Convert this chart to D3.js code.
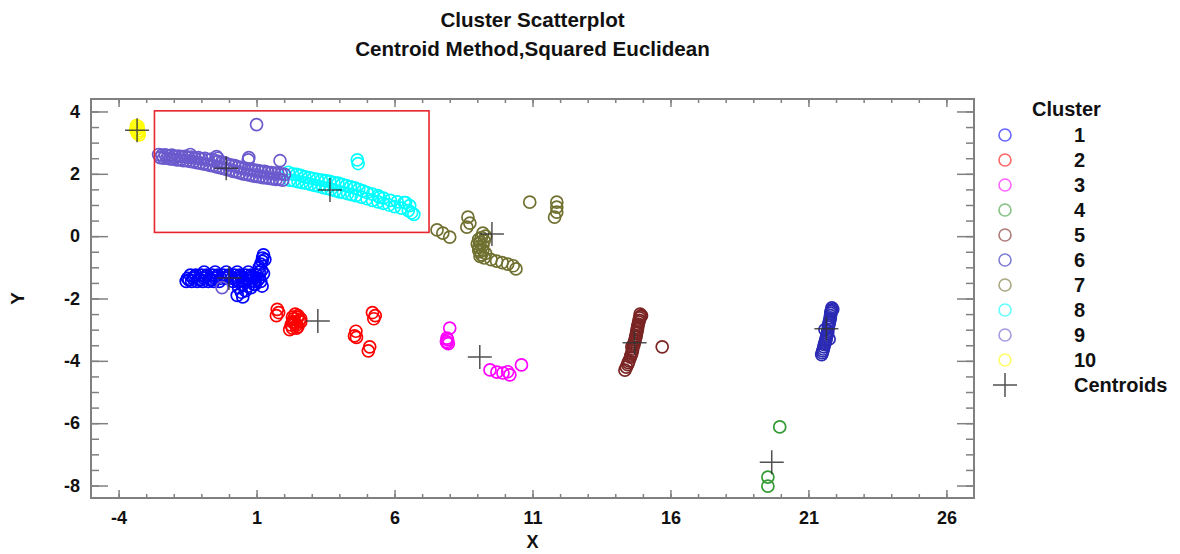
<!DOCTYPE html>
<html>
<head>
<meta charset="utf-8">
<script src="https://cdnjs.cloudflare.com/ajax/libs/d3/7.8.5/d3.min.js"></script>
<style>
    body { margin: 0; background: #fff; }
    text { font-family: "Liberation Sans", Arial, sans-serif; font-weight: bold; fill: #111; }
</style>
</head>
<body>
<svg id="chartSVG"></svg>
<script>
//Cluster points, one list per cluster: [x, y]
    const cluster1 = [[-1.4,-1.25],[-1.2,-1.25],[-1.0,-1.25],[-0.8,-1.25],[-0.6,-1.25],[-0.4,-1.25],[-0.2,-1.25],[0.0,-1.25],
                      [0.2,-1.25],[0.4,-1.25],[0.6,-1.25],[0.8,-1.25],[1.0,-1.25],
                      [-1.5,-1.35],[-1.3,-1.35],[-1.1,-1.35],[-0.9,-1.35],[-0.7,-1.35],[-0.5,-1.35],[-0.3,-1.35],[-0.1,-1.35],
                      [0.1,-1.35],[0.3,-1.35],[0.5,-1.35],[0.7,-1.35],[0.9,-1.35],[1.1,-1.35],
                      [-1.55,-1.45],[-1.35,-1.45],[-1.15,-1.45],[-0.95,-1.45],[-0.75,-1.45],[-0.55,-1.45],[-0.35,-1.45],
                      [0.15,-1.45],[0.35,-1.45],[0.55,-1.45],[0.75,-1.45],[0.95,-1.45],[1.15,-1.45],
                      [-1.45,-1.4],[-1.25,-1.3],[-1.05,-1.4],[-0.85,-1.3],[-0.65,-1.4],[-0.45,-1.3],[-0.05,-1.3],
                      [0.25,-1.4],[0.45,-1.3],[0.65,-1.4],[0.85,-1.3],[1.05,-1.4],[0.5,-1.55],[0.7,-1.6],[0.9,-1.55],
                      [-0.9,-1.15],[-0.5,-1.15],[-0.1,-1.15],[0.3,-1.15],[0.7,-1.15],[1.1,-1.15],[1.25,-1.2],
                      [0.35,-1.65],[0.45,-1.8],[0.5,-1.95],[0.6,-1.75],[0.8,-1.65],[0.95,-1.55],[0.3,-1.9],[1.2,-1.6],
                      [1.1,-1.0],[1.15,-0.9],[1.2,-0.8],[1.22,-0.7],[1.25,-0.6],[1.3,-0.75],[1.18,-1.1]];
    const cluster2 = [[1.75,-2.35],[1.8,-2.45],[1.72,-2.55],[2.3,-2.6],[2.4,-2.5],[2.5,-2.55],[2.6,-2.65],[2.35,-2.75],
                      [2.45,-2.85],[2.3,-2.95],[2.5,-2.9],[2.2,-3.0],[2.6,-2.75],[2.35,-2.65],[2.4,-2.8],[2.55,-2.7],
                      [2.25,-2.85],[2.45,-2.95],[2.5,-2.6],[2.3,-2.75],
                      [5.2,-2.45],[5.3,-2.55],[5.25,-2.65],[4.6,-3.05],[4.55,-3.2],[4.62,-3.25],[5.1,-3.55],[5.05,-3.68]];
    const cluster3 = [[8.0,-2.95],[7.9,-3.27],[7.92,-3.32],[7.88,-3.38],[7.9,-3.42],[7.95,-3.45],[9.46,-4.29],[9.71,-4.36],
                      [9.93,-4.39],[10.18,-4.45],[10.1,-4.35],[10.6,-4.13]];
    const cluster4 = [[19.96,-6.12],[19.53,-7.73],[19.53,-8.02]];
    const cluster5 = [[14.95,-2.55],[14.9,-2.5],[14.92,-2.58],[14.88,-2.62],[14.87,-2.7],[14.85,-2.75],[14.83,-2.82],
                      [14.82,-2.88],[14.8,-2.95],[14.8,-3.0],[14.78,-3.06],[14.77,-3.12],[14.75,-3.2],[14.74,-3.25],
                      [14.72,-3.32],[14.7,-3.38],[14.68,-3.44],[14.67,-3.5],[14.6,-3.55],[14.63,-3.62],[14.62,-3.68],
                      [14.6,-3.75],[14.57,-3.82],[14.55,-3.88],[14.5,-4.0],[14.47,-4.06],[14.45,-4.12],[14.4,-4.2],
                      [14.35,-4.3],[15.7,-3.55]];
    const cluster6 = [[21.88,-2.35],[21.85,-2.3],[21.84,-2.38],[21.82,-2.42],[21.81,-2.48],[21.8,-2.55],[21.79,-2.62],
                      [21.78,-2.68],[21.76,-2.74],[21.75,-2.8],[21.73,-2.86],[21.72,-2.92],[21.6,-3.0],[21.7,-3.05],
                      [21.69,-3.12],[21.67,-3.18],[21.65,-3.24],[21.64,-3.3],[21.75,-3.3],[21.62,-3.36],[21.6,-3.42],
                      [21.58,-3.48],[21.56,-3.55],[21.54,-3.62],[21.52,-3.68],[21.5,-3.74],[21.48,-3.8]];
    const cluster7 = [[7.54,0.2],[7.75,0.1],[8.0,-0.03],[8.66,0.61],[8.73,0.42],[8.62,0.29],[9.2,0.1],[9.3,0.0],
                      [9.15,-0.05],[9.1,-0.2],[9.2,-0.3],[9.05,-0.35],[9.1,-0.5],[9.15,-0.6],[9.25,-0.7],[9.05,-0.1],
                      [9.0,-0.25],[9.05,-0.45],[9.1,-0.65],[9.2,-0.45],[9.25,-0.15],[9.3,-0.55],[9.5,-0.75],
                      [9.7,-0.8],[9.9,-0.85],[10.1,-0.9],[10.3,-0.95],[10.4,-1.05],[10.9,1.09],[11.88,1.09],
                      [11.88,0.93],[11.88,0.77],[11.8,0.61]];
    const cluster8 = [[2.15,2.05],[2.3,2.0],[2.45,1.98],[2.6,1.95],[2.75,1.9],[2.9,1.88],[3.05,1.85],[3.2,1.82],[3.35,1.8],
                      [3.5,1.78],[3.65,1.76],[3.8,1.72],[3.95,1.7],[4.1,1.66],[4.25,1.62],[4.4,1.58],[4.55,1.55],
                      [4.7,1.5],[4.85,1.45],[5.0,1.4],[5.2,1.35],[5.4,1.3],[5.6,1.22],[5.85,1.15],[6.1,1.1],
                      [6.35,1.08],[6.55,0.98],
                      [2.2,1.8],[2.35,1.78],[2.5,1.75],[2.65,1.72],[2.8,1.7],[2.95,1.66],[3.1,1.63],[3.25,1.6],
                      [3.4,1.56],[3.55,1.53],[3.7,1.5],[3.85,1.46],[4.0,1.42],[4.15,1.4],[4.3,1.36],[4.45,1.33],
                      [4.6,1.3],[4.8,1.25],[5.0,1.2],[5.2,1.15],[5.4,1.1],[5.6,1.05],[5.8,1.0],[6.0,0.95],[6.25,0.9],
                      [6.5,0.82],[6.62,0.75],[6.7,0.7],[5.45,1.25],[6.4,1.08],[4.65,2.45],[4.68,2.33]];
    const cluster9 = [[-2.55,2.62],[-2.43,2.6],[-2.31,2.61],[-2.19,2.58],[-2.07,2.6],[-1.95,2.56],[-1.83,2.57],
                      [-1.71,2.55],[-1.59,2.56],[-1.47,2.53],[-1.35,2.54],[-1.23,2.5],[-1.11,2.52],[-0.99,2.48],
                      [-0.87,2.5],[-0.75,2.45],[-0.63,2.47],[-0.51,2.42],[-0.39,2.4],[-0.27,2.36],[-0.15,2.35],
                      [-0.03,2.3],[0.09,2.28],[0.21,2.26],[0.33,2.22],[0.45,2.2],[0.57,2.18],[0.69,2.16],[0.81,2.14],
                      [0.93,2.12],[1.05,2.1],[1.17,2.08],[1.29,2.08],[1.41,2.05],[1.53,2.04],[1.65,2.02],[1.77,2.02],
                      [1.89,2.0],[2.01,1.98],
                      [-2.49,2.52],[-2.37,2.5],[-2.25,2.5],[-2.13,2.48],[-2.01,2.47],[-1.89,2.45],[-1.77,2.45],
                      [-1.65,2.42],[-1.53,2.42],[-1.41,2.4],[-1.29,2.38],[-1.17,2.36],[-1.05,2.34],[-0.93,2.32],
                      [-0.81,2.3],[-0.69,2.27],[-0.57,2.25],[-0.45,2.22],[-0.33,2.2],[-0.21,2.17],[-0.09,2.14],
                      [0.03,2.12],[0.15,2.08],[0.27,2.06],[0.39,2.03],[0.51,2.0],[0.63,1.98],[0.75,1.96],[0.87,1.93],
                      [0.99,1.92],[1.11,1.9],[1.23,1.88],[1.35,1.87],[1.47,1.85],[1.59,1.84],[1.71,1.82],[1.83,1.82],
                      [1.95,1.8],[-1.4,2.62],[-0.45,2.55],[-0.4,2.5],
                      [1.0,3.58],[0.7,2.45],[0.72,2.52],[1.85,2.42],[-0.25,-1.65]];
    const cluster10 = [[-3.35,3.55],[-3.3,3.45],[-3.28,3.38],[-3.32,3.3],[-3.25,3.25],[-3.38,3.42],[-3.3,3.52],[-3.27,3.32]];

    const clusterPoints = [cluster1, cluster2, cluster3, cluster4, cluster5, cluster6, cluster7, cluster8, cluster9, cluster10];
    const clusterNames = ["1", "2", "3", "4", "5", "6", "7", "8", "9", "10"];
    const clusterColors = ["#0000ff", "#ff0000", "#ff00ff", "#339933", "#7a2424", "#2a2ab4", "#707030", "#00ffff", "#6a5acd", "#ffff00"];

    //Centroids, in cluster order
    const centroids = [[0.0,-1.34],[3.22,-2.72],[9.09,-3.88],[19.67,-7.25],[14.7,-3.42],[21.65,-2.97],[9.53,0.07],[3.66,1.48],[-0.1,2.18],[-3.33,3.4]];

    //Tick values
    const xMajorTicks = [-4, 1, 6, 11, 16, 21, 26];
    const xMinorTicks = d3.range(-4, 27, 1);
    const yMajorTicks = [-8, -6, -4, -2, 0, 2, 4];
    const yMinorTicks = d3.range(-8, 4.01, 0.5);

    //Red highlight box (data coordinates)
    const highlightBox = {x0: -2.7, x1: 7.25, y0: 0.12, y1: 4.02};


//Get the svg size
    const svgWidth = 1180,
          svgHeight = 554;
    const plotLeft = 91, plotRight = 974, plotTop = 99, plotBottom = 498;

    const svg = d3.select("#chartSVG")
                    .attr("width", svgWidth)
                    .attr("height", svgHeight);

    const x = d3.scaleLinear().domain([-5, 27]).range([plotLeft, plotRight]);
    const y = d3.scaleLinear().domain([-8.4, 4.4]).range([plotBottom, plotTop]);


// F1: titles
    svg.append("text")
        .attr("x", (plotLeft + plotRight) / 2)
        .attr("y", 27)
        .attr("text-anchor", "middle")
        .style("font-size", "20.6px")
        .text("Cluster Scatterplot");

    svg.append("text")
        .attr("x", (plotLeft + plotRight) / 2)
        .attr("y", 56)
        .attr("text-anchor", "middle")
        .style("font-size", "20.6px")
        .text("Centroid Method,Squared Euclidean");


// F2: axes with inward ticks on all four sides
    const drawAxis = (axisFn, ticks, size, translate, labels) => {
        const g = svg.append("g")
                        .attr("transform", translate)
                        .call(axisFn.tickValues(ticks).tickSize(size).tickSizeOuter(0)
                                .tickFormat(labels ? (d) => String(d) : ""));
        g.select(".domain").remove();
        g.selectAll(".tick line").style("stroke", "#808080").style("stroke-width", 1.5);
        g.selectAll(".tick text").style("font-size", "18px").style("fill", "#111");
        return g;
    }

    const xBottom = drawAxis(d3.axisBottom(x), xMajorTicks, -8, `translate(0,${plotBottom})`, true);
    xBottom.selectAll(".tick text").attr("y", 13);
    drawAxis(d3.axisBottom(x), xMinorTicks, -4, `translate(0,${plotBottom})`, false);
    drawAxis(d3.axisTop(x), xMajorTicks, -8, `translate(0,${plotTop})`, false);
    drawAxis(d3.axisTop(x), xMinorTicks, -4, `translate(0,${plotTop})`, false);

    const yLeft = drawAxis(d3.axisLeft(y), yMajorTicks, -17, `translate(${plotLeft},0)`, true);
    yLeft.selectAll(".tick text").attr("x", -11);
    drawAxis(d3.axisLeft(y), yMinorTicks, -8, `translate(${plotLeft},0)`, false);
    drawAxis(d3.axisRight(y), yMajorTicks, -17, `translate(${plotRight},0)`, false);
    drawAxis(d3.axisRight(y), yMinorTicks, -8, `translate(${plotRight},0)`, false);

    svg.append("rect")
        .attr("x", plotLeft)
        .attr("y", plotTop)
        .attr("width", plotRight - plotLeft)
        .attr("height", plotBottom - plotTop)
        .style("fill", "none")
        .style("stroke", "#808080")
        .style("stroke-width", 2);

    svg.append("text")
        .attr("x", (plotLeft + plotRight) / 2)
        .attr("y", 548)
        .attr("text-anchor", "middle")
        .style("font-size", "18px")
        .text("X");

    svg.append("text")
        .attr("transform", `translate(24,${(plotTop + plotBottom) / 2}) rotate(-90)`)
        .attr("text-anchor", "middle")
        .style("font-size", "19px")
        .text("Y");


// F3: points, one group per cluster
    const crossPath = (half) => `M${-half},0H${half}M0,${-half}V${half}`;

    clusterPoints.forEach((pts, i) => {
        svg.append("g")
            .attr("class", `cluster_${clusterNames[i]}`)
            .selectAll("circle")
            .data(pts)
            .enter()
            .append("circle")
            .attr("cx", (d) => x(d[0]))
            .attr("cy", (d) => y(d[1]))
            .attr("r", 6)
            .style("fill", "none")
            .style("stroke", clusterColors[i])
            .style("stroke-width", 1.7);
    });

    svg.append("g")
        .selectAll("path")
        .data(centroids)
        .enter()
        .append("path")
        .attr("transform", (d) => `translate(${x(d[0])},${y(d[1])})`)
        .attr("d", crossPath(12))
        .style("stroke", "#333")
        .style("stroke-opacity", 0.85)
        .style("stroke-width", 1.5);


// F4: red highlight box
    svg.append("rect")
        .attr("x", x(highlightBox.x0))
        .attr("y", y(highlightBox.y1))
        .attr("width", x(highlightBox.x1) - x(highlightBox.x0))
        .attr("height", y(highlightBox.y0) - y(highlightBox.y1))
        .style("fill", "none")
        .style("stroke", "#e8242c")
        .style("stroke-width", 1.6);


// F5: legend
    const legendX = 1005, legendTextX = 1074, legendTop = 135, legendStep = 25;

    svg.append("text")
        .attr("x", 1032)
        .attr("y", legendTop - 19)
        .style("font-size", "20px")
        .text("Cluster");

    const legendItems = svg.selectAll(".legendItem")
                            .data(clusterNames)
                            .enter()
                            .append("g")
                            .attr("class", "legendItem")
                            .attr("transform", (d, i) => `translate(0,${legendTop + i * legendStep})`);

    legendItems.append("circle")
                .attr("cx", legendX)
                .attr("r", 6)
                .style("fill", "none")
                .style("stroke", (d, i) => clusterColors[i])
                .style("stroke-opacity", 0.6)
                .style("stroke-width", 1.6);

    legendItems.append("text")
                .attr("x", legendTextX)
                .attr("dy", "0.35em")
                .style("font-size", "20px")
                .text((d) => d);

    const centroidRow = svg.append("g")
                            .attr("transform", `translate(0,${legendTop + 10 * legendStep})`);
    centroidRow.append("path")
                .attr("transform", `translate(${legendX},0)`)
                .attr("d", crossPath(12))
                .style("stroke", "#333")
                .style("stroke-opacity", 0.85)
                .style("stroke-width", 1.5);
    centroidRow.append("text")
                .attr("x", legendTextX)
                .attr("dy", "0.35em")
                .style("font-size", "20px")
                .text("Centroids");
</script>
</body>
</html>
